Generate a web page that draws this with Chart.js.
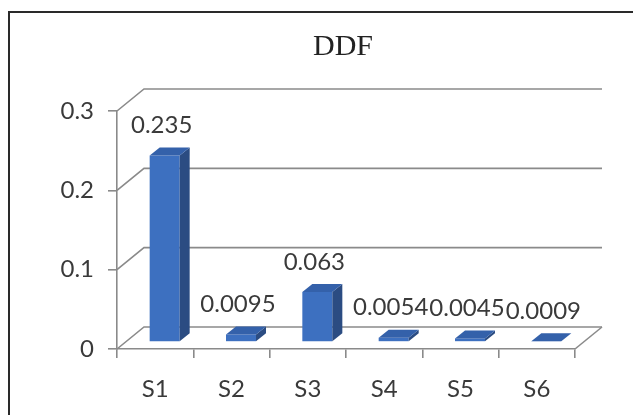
<!DOCTYPE html>
<html>
<head>
<meta charset="utf-8">
<title>DDF</title>
<script src="https://cdn.jsdelivr.net/npm/chart.js@4.4.1/dist/chart.umd.min.js"></script>
<style>
  html, body { margin: 0; padding: 0; background: #ffffff; }
  canvas { display: block; }
</style>
</head>
<body>
<canvas id="c" width="633" height="415"></canvas>
<script>
// ---- data ----
const categories = ['S1', 'S2', 'S3', 'S4', 'S5', 'S6'];
const ddfValues = [0.235, 0.0095, 0.063, 0.0054, 0.0045, 0.0009];
const yTicks = [0, 0.1, 0.2, 0.3];
const chartTitle = 'DDF';

// ---- 3D box geometry (pixels) ----
const WALL = { dx: 27, dy: -22 };        // offset of the back wall from the axis plane
const BAR_FRONT = { dx: 9.5, dy: -7 };   // where the bar front faces sit inside the box
const BAR_DEPTH = { dx: 10, dy: -8 };    // bar thickness going backwards

const TEXT = '#3a3a3a';
const GRID = '#8a8a8a';
const FACE = { front: '#3d70c0', side: '#2b4c82', top: '#3461aa' };

function line(ctx, pts) {
  ctx.beginPath();
  ctx.moveTo(pts[0][0], pts[0][1]);
  for (let i = 1; i < pts.length; i++) ctx.lineTo(pts[i][0], pts[i][1]);
  ctx.stroke();
}
function poly(ctx, pts, fill) {
  ctx.beginPath();
  ctx.moveTo(pts[0][0], pts[0][1]);
  for (let i = 1; i < pts.length; i++) ctx.lineTo(pts[i][0], pts[i][1]);
  ctx.closePath();
  ctx.fillStyle = fill;
  ctx.fill();
}

const box3d = {
  id: 'box3d',
  beforeDraw(chart) {
    const ctx = chart.ctx;
    ctx.save();
    ctx.strokeStyle = '#2a2a2a';
    ctx.lineWidth = 2;
    line(ctx, [[9, 415], [9, 12], [633, 12]]);
    ctx.restore();
  },
  beforeDatasetsDraw(chart) {
    // side wall diagonals, back wall gridlines and floor edge
    const ctx = chart.ctx;
    const { left, right } = chart.chartArea;
    const y = chart.scales.y;
    ctx.save();
    ctx.strokeStyle = GRID;
    ctx.lineWidth = 1.6;
    yTicks.forEach(v => {
      const py = y.getPixelForValue(v);
      line(ctx, [[left, py], [left + WALL.dx, py + WALL.dy], [right + WALL.dx, py + WALL.dy]]);
    });
    const p0 = y.getPixelForValue(0);
    line(ctx, [[right, p0], [right + WALL.dx, p0 + WALL.dy]]);
    ctx.restore();
  },
  beforeDatasetDraw(chart) {
    chart.ctx.save();
    chart.ctx.translate(BAR_FRONT.dx, BAR_FRONT.dy);
  },
  afterDatasetDraw(chart, args) {
    const ctx = chart.ctx;
    args.meta.data.forEach(el => {
      const { x, y, base, width } = el.getProps(['x', 'y', 'base', 'width'], true);
      const l = x - width / 2, r = x + width / 2;
      const ddx = BAR_DEPTH.dx, ddy = BAR_DEPTH.dy;
      poly(ctx, [[r, y], [r + ddx, y + ddy], [r + ddx, base + ddy], [r, base]], FACE.side);
      poly(ctx, [[l, y], [r, y], [r + ddx, y + ddy], [l + ddx, y + ddy]], FACE.top);
    });
    ctx.restore();
  },
  afterDatasetsDraw(chart) {
    const ctx = chart.ctx;
    const meta = chart.getDatasetMeta(0);
    ctx.save();
    ctx.fillStyle = TEXT;
    ctx.font = '24px Lato';
    ctx.textAlign = 'center';
    ctx.textBaseline = 'middle';
    meta.data.forEach((el, i) => {
      const { x, y } = el.getProps(['x', 'y'], true);
      ctx.fillText(String(ddfValues[i]), x + 6.5, y - 37);
    });
    ctx.restore();
  },
  afterDraw(chart) {
    const ctx = chart.ctx;
    ctx.save();
    ctx.fillStyle = '#222222';
    ctx.font = '30px "Liberation Serif"';
    ctx.textAlign = 'center';
    ctx.textBaseline = 'alphabetic';
    ctx.fillText(chartTitle, 343, 55);
    ctx.restore();
  }
};

Chart.defaults.font.family = 'Lato';

new Chart(document.getElementById('c'), {
  type: 'bar',
  data: {
    labels: categories,
    datasets: [{
      label: chartTitle,
      data: ddfValues,
      backgroundColor: FACE.front,
      borderWidth: 0,
      categoryPercentage: 1,
      barPercentage: 0.393,
      clip: false
    }]
  },
  options: {
    responsive: false,
    animation: false,
    devicePixelRatio: 1,
    layout: { padding: { left: 0, top: 111, right: 58, bottom: 0 } },
    plugins: {
      legend: { display: false },
      title: { display: false },
      tooltip: { enabled: false }
    },
    scales: {
      x: {
        grid: { display: true, drawOnChartArea: false, offset: true, tickLength: 9, color: GRID, lineWidth: 1.6 },
        border: { display: true, color: GRID, width: 1.6 },
        ticks: { color: TEXT, font: { size: 24 }, padding: 17, maxRotation: 0 },
        afterFit(s) { s.height = 66; }
      },
      y: {
        min: 0,
        max: 0.3,
        afterBuildTicks(s) { s.ticks = yTicks.map(v => ({ value: v })); },
        grid: { display: true, drawOnChartArea: false, tickLength: 9, color: GRID, lineWidth: 1.6 },
        border: { display: true, color: GRID, width: 1.6 },
        ticks: { color: TEXT, font: { size: 24 }, padding: 14 },
        afterFit(s) { s.width = 117; }
      }
    }
  },
  plugins: [box3d]
});
</script>
</body>
</html>
